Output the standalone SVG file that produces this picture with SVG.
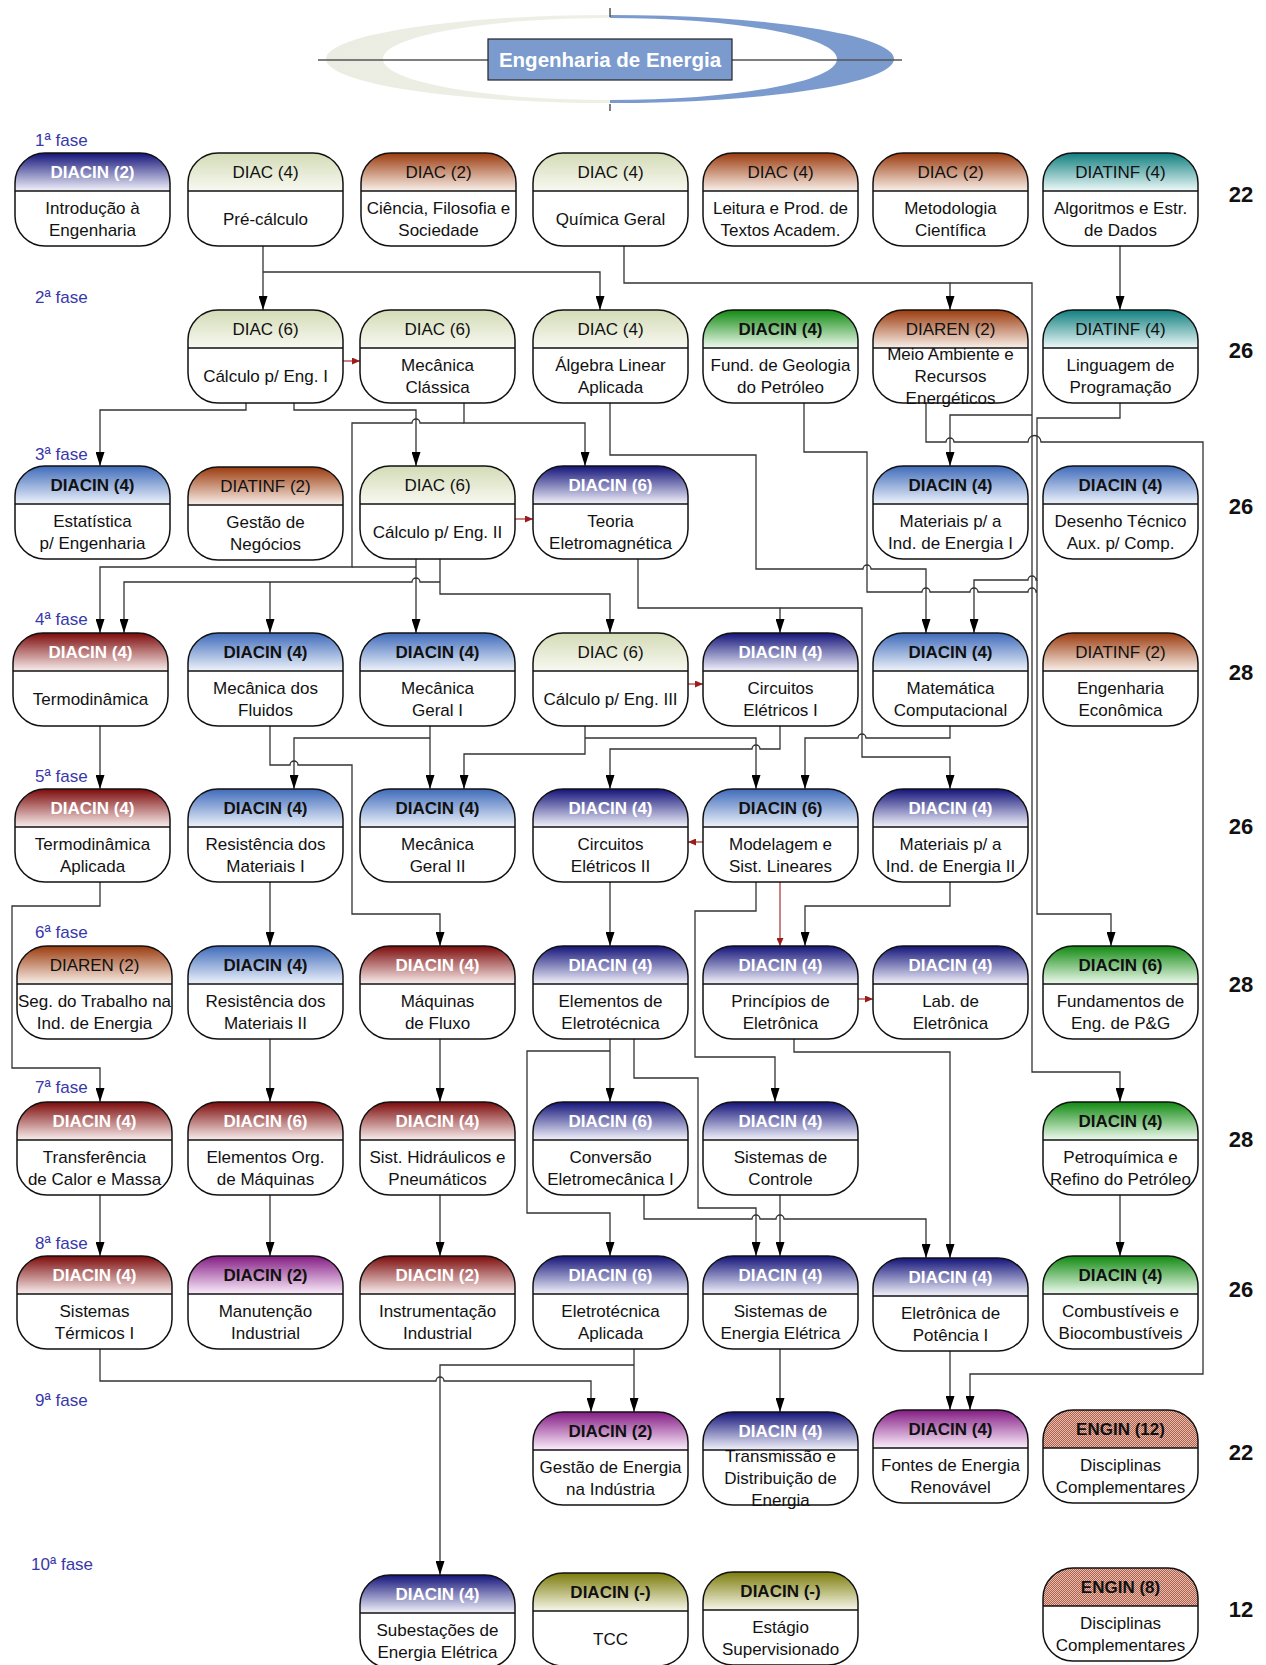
<svg xmlns="http://www.w3.org/2000/svg" width="1266" height="1665" viewBox="0 0 1266 1665">
<style>
text{font-family:"Liberation Sans",Arial,sans-serif}
.bd{fill:#fff}
.ol{fill:none;stroke:#111;stroke-width:1.5}
.dl{stroke:#111;stroke-width:1.5}
.t{font-size:17px;fill:#111;text-anchor:middle}
.h{font-size:17px;fill:#111;text-anchor:middle}
.hb{font-weight:bold}
.hw{font-weight:bold;fill:#fff}
.ph{font-size:17px;fill:#3838aa}
.tot{font-size:22px;font-weight:bold;text-anchor:middle;fill:#111}
.c{fill:none;stroke:#333;stroke-width:1.3;marker-end:url(#arr)}
.cn{fill:none;stroke:#333;stroke-width:1.3}
.cr{fill:none;stroke:#9b1c1c;stroke-width:1.1;marker-end:url(#arrR)}
</style>
<defs>
<linearGradient id="gTitle" gradientUnits="userSpaceOnUse" x1="326" y1="0" x2="894" y2="0"><stop offset="0" stop-color="#ecede2"/><stop offset="0.5" stop-color="#eeefe5"/><stop offset="0.5" stop-color="#7b9bcf"/><stop offset="1" stop-color="#7b9bcf"/></linearGradient>
<linearGradient id="gNavy" x1="0" y1="0" x2="0" y2="1"><stop offset="0" stop-color="#14147a"/><stop offset="1" stop-color="#f2f2fb"/></linearGradient>
<linearGradient id="gDiac" x1="0" y1="0" x2="0" y2="1"><stop offset="0" stop-color="#d3dbb6"/><stop offset="1" stop-color="#f8f9f1"/></linearGradient>
<linearGradient id="gBrown" x1="0" y1="0" x2="0" y2="1"><stop offset="0" stop-color="#9b3b0e"/><stop offset="1" stop-color="#f9f0ea"/></linearGradient>
<linearGradient id="gTeal" x1="0" y1="0" x2="0" y2="1"><stop offset="0" stop-color="#117f7f"/><stop offset="1" stop-color="#eef9f9"/></linearGradient>
<linearGradient id="gGreen" x1="0" y1="0" x2="0" y2="1"><stop offset="0" stop-color="#118a11"/><stop offset="1" stop-color="#effaef"/></linearGradient>
<linearGradient id="gSteel" x1="0" y1="0" x2="0" y2="1"><stop offset="0" stop-color="#3f6bba"/><stop offset="1" stop-color="#eef3fb"/></linearGradient>
<linearGradient id="gRed" x1="0" y1="0" x2="0" y2="1"><stop offset="0" stop-color="#7d0b0b"/><stop offset="1" stop-color="#f9eeee"/></linearGradient>
<linearGradient id="gPurple" x1="0" y1="0" x2="0" y2="1"><stop offset="0" stop-color="#841c84"/><stop offset="1" stop-color="#fbeefb"/></linearGradient>
<linearGradient id="gOlive" x1="0" y1="0" x2="0" y2="1"><stop offset="0" stop-color="#7c7c0c"/><stop offset="1" stop-color="#f7f7ea"/></linearGradient>
<pattern id="pEngin" width="2" height="2" patternUnits="userSpaceOnUse"><rect width="2" height="2" fill="#e6bcac"/><rect width="1" height="1" fill="#b0604e"/><rect x="1" y="1" width="1" height="1" fill="#b0604e"/></pattern>
<rect id="box" width="155" height="93" rx="30" ry="30"/>
<path id="hdr" d="M0,38 V30 A30,30 0 0 1 30,0 H125 A30,30 0 0 1 155,30 V38 Z"/>
<line id="dv" x1="0" y1="38" x2="155" y2="38"/>
<marker id="arr" viewBox="0 0 14 9" markerWidth="14" markerHeight="9" refX="14" refY="4.5" orient="auto" markerUnits="userSpaceOnUse"><path d="M0,0 L14,4.5 L0,9 Z" fill="#000"/></marker>
<marker id="arrR" viewBox="0 0 8 7" markerWidth="8" markerHeight="7" refX="8" refY="3.5" orient="auto" markerUnits="userSpaceOnUse"><path d="M0,0 L8,3.5 L0,7 Z" fill="#9b1c1c"/></marker>
</defs>
<rect width="1266" height="1665" fill="#fff"/>

<g id="title">
<path d="M326,59 A284,44 0 1 0 894,59 A284,44 0 1 0 326,59 Z M383,59 A227,41 0 1 0 837,59 A227,41 0 1 0 383,59 Z" fill="url(#gTitle)" fill-rule="evenodd"/>
<line x1="318" y1="60" x2="902" y2="60" stroke="#555" stroke-width="1.5"/>
<line x1="610" y1="8" x2="610" y2="17" stroke="#555" stroke-width="1.5"/>
<line x1="610" y1="104" x2="610" y2="111" stroke="#555" stroke-width="1.5"/>
<rect x="488" y="39" width="244" height="41" fill="#7b9bcf" stroke="#222" stroke-width="1.2"/>
<text x="610" y="67" font-size="20.5" font-weight="bold" fill="#fff" text-anchor="middle">Engenharia de Energia</text>
</g>

<g id="phases">
<text class="ph" x="35" y="146">1ª fase</text>
<text class="ph" x="35" y="303">2ª fase</text>
<text class="ph" x="35" y="460">3ª fase</text>
<text class="ph" x="35" y="625">4ª fase</text>
<text class="ph" x="35" y="782">5ª fase</text>
<text class="ph" x="35" y="938">6ª fase</text>
<text class="ph" x="35" y="1093">7ª fase</text>
<text class="ph" x="35" y="1249">8ª fase</text>
<text class="ph" x="35" y="1406">9ª fase</text>
<text class="ph" x="31" y="1570">10ª fase</text>
</g>

<g id="totals">
<text class="tot" x="1241" y="202">22</text>
<text class="tot" x="1241" y="358">26</text>
<text class="tot" x="1241" y="514">26</text>
<text class="tot" x="1241" y="680">28</text>
<text class="tot" x="1241" y="834">26</text>
<text class="tot" x="1241" y="992">28</text>
<text class="tot" x="1241" y="1147">28</text>
<text class="tot" x="1241" y="1297">26</text>
<text class="tot" x="1241" y="1460">22</text>
<text class="tot" x="1241" y="1617">12</text>
</g>

<g id="connectors">
<path class="c" d="M263,246 V310"/>
<path class="c" d="M263,272 H600 V310"/>
<path class="c" d="M624,246 V283 H950 V310"/>
<path class="c" d="M950,283 H1032 V1072 H1120 V1102"/>
<path class="c" d="M1032,415 H950 V466"/>
<path class="c" d="M1120,246 V310"/>
<path class="c" d="M246,402 V410 H100 V466"/>
<path class="c" d="M294,402 V410 H416 V466"/>
<path class="c" d="M464,402 V423 H585 V466"/>
<path class="c" d="M464,423 H420 A4,4 0 0 0 412,423 H352 V567 H100 V633"/>
<path class="cn" d="M352,567 H416"/>
<path class="c" d="M416,559 V633"/>
<path class="c" d="M440,559 V594 H610 V633"/>
<path class="c" d="M440,582 H420 A4,4 0 0 0 412,582 H124 V633"/>
<path class="c" d="M270,582 V633"/>
<path class="c" d="M610,402 V455 H756 V569 H863 A4,4 0 0 1 871,569 H926 V633"/>
<path class="c" d="M1037,580 V592 M804,402 V452 H867 V592 H922 A4,4 0 0 1 930,592 H970 A4,4 0 0 1 978,592 H1028 A4,4 0 0 1 1036,592 H1037 V914 H1111 V946"/>
<path class="c" d="M926,402 V442 H946 A4,4 0 0 1 954,442 H1028 A6.5,6.5 0 0 1 1041,442 H1203 V1374 H970 V1410"/>
<path class="c" d="M1120,402 V418 H1037 V580 H1036 A4,4 0 0 0 1028,580 H974 V633"/>
<path class="c" d="M638,559 V608 H780 V633"/>
<path class="c" d="M780,608 H862 V757 H950 V789"/>
<path class="c" d="M585,726 V754 H464 V789"/>
<path class="c" d="M585,738 H756 V789"/>
<path class="c" d="M780,726 V749 H760 A4,4 0 0 0 752,749 H610 V789"/>
<path class="c" d="M950,726 V738 H866 A4,4 0 0 0 858,738 H805 V789"/>
<path class="c" d="M100,726 V789"/>
<path class="c" d="M270,726 V765 H290 A4,4 0 0 1 298,765 H352 V914 H440 V946"/>
<path class="c" d="M430,726 V789"/>
<path class="c" d="M430,738 H294 V789"/>
<path class="c" d="M100,882 V906 H12 V1068 H100 V1102"/>
<path class="c" d="M270,882 V946"/>
<path class="c" d="M610,882 V946"/>
<path class="c" d="M756,882 V911 H695 V1057 H775 V1102"/>
<path class="c" d="M950,882 V906 H805 V946"/>
<path class="c" d="M270,1039 V1102"/>
<path class="c" d="M440,1039 V1102"/>
<path class="c" d="M610,1039 V1102"/>
<path class="c" d="M610,1051 H527 V1213 H610 V1256"/>
<path class="c" d="M634,1039 V1078 H698 V1208 H756 V1256"/>
<path class="c" d="M794,1039 V1052 H950 V1258"/>
<path class="c" d="M780,1195 V1256"/>
<path class="c" d="M644,1195 V1219 H752 A4,4 0 0 1 760,1219 H776 A4,4 0 0 1 784,1219 H926 V1258"/>
<path class="c" d="M1120,1195 V1256"/>
<path class="c" d="M100,1195 V1256"/>
<path class="c" d="M270,1195 V1256"/>
<path class="c" d="M440,1195 V1256"/>
<path class="c" d="M100,1349 V1381 H436 A4,4 0 0 1 444,1381 H591 V1412"/>
<path class="c" d="M634,1349 V1412"/>
<path class="c" d="M634,1365 H440 V1575"/>
<path class="c" d="M780,1349 V1412"/>
<path class="c" d="M950,1351 V1410"/>
<path class="cr" d="M343,361 H360"/>
<path class="cr" d="M515,519 H533"/>
<path class="cr" d="M688,684 H703"/>
<path class="cr" d="M703,842 H688"/>
<path class="cr" d="M780,882 V946"/>
<path class="cr" d="M858,999 H873"/>
</g>

<g id="n-intro-eng" transform="translate(15,153)"><use href="#box" class="bd"/><text class="t"><tspan x="77.5" y="60.5">Introdução à</tspan><tspan x="77.5" y="82.5">Engenharia</tspan></text><use href="#hdr" fill="url(#gNavy)"/><use href="#dv" class="dl"/><text class="h hw" x="77.5" y="25">DIACIN (2)</text><use href="#box" class="ol"/></g>
<g id="n-pre-calculo" transform="translate(188,153)"><use href="#box" class="bd"/><text class="t" x="77.5" y="71.5">Pré-cálculo</text><use href="#hdr" fill="url(#gDiac)"/><use href="#dv" class="dl"/><text class="h" x="77.5" y="25">DIAC (4)</text><use href="#box" class="ol"/></g>
<g id="n-ciencia" transform="translate(361,153)"><use href="#box" class="bd"/><text class="t"><tspan x="77.5" y="60.5">Ciência, Filosofia e</tspan><tspan x="77.5" y="82.5">Sociedade</tspan></text><use href="#hdr" fill="url(#gBrown)"/><use href="#dv" class="dl"/><text class="h" x="77.5" y="25">DIAC (2)</text><use href="#box" class="ol"/></g>
<g id="n-quimica" transform="translate(533,153)"><use href="#box" class="bd"/><text class="t" x="77.5" y="71.5">Química Geral</text><use href="#hdr" fill="url(#gDiac)"/><use href="#dv" class="dl"/><text class="h" x="77.5" y="25">DIAC (4)</text><use href="#box" class="ol"/></g>
<g id="n-leitura" transform="translate(703,153)"><use href="#box" class="bd"/><text class="t"><tspan x="77.5" y="60.5">Leitura e Prod. de</tspan><tspan x="77.5" y="82.5">Textos Academ.</tspan></text><use href="#hdr" fill="url(#gBrown)"/><use href="#dv" class="dl"/><text class="h" x="77.5" y="25">DIAC (4)</text><use href="#box" class="ol"/></g>
<g id="n-metodologia" transform="translate(873,153)"><use href="#box" class="bd"/><text class="t"><tspan x="77.5" y="60.5">Metodologia</tspan><tspan x="77.5" y="82.5">Científica</tspan></text><use href="#hdr" fill="url(#gBrown)"/><use href="#dv" class="dl"/><text class="h" x="77.5" y="25">DIAC (2)</text><use href="#box" class="ol"/></g>
<g id="n-algoritmos" transform="translate(1043,153)"><use href="#box" class="bd"/><text class="t"><tspan x="77.5" y="60.5">Algoritmos e Estr.</tspan><tspan x="77.5" y="82.5">de Dados</tspan></text><use href="#hdr" fill="url(#gTeal)"/><use href="#dv" class="dl"/><text class="h" x="77.5" y="25">DIATINF (4)</text><use href="#box" class="ol"/></g>

<g id="n-calculo1" transform="translate(188,310)"><use href="#box" class="bd"/><text class="t" x="77.5" y="71.5">Cálculo p/ Eng. I</text><use href="#hdr" fill="url(#gDiac)"/><use href="#dv" class="dl"/><text class="h" x="77.5" y="25">DIAC (6)</text><use href="#box" class="ol"/></g>
<g id="n-mec-classica" transform="translate(360,310)"><use href="#box" class="bd"/><text class="t"><tspan x="77.5" y="60.5">Mecânica</tspan><tspan x="77.5" y="82.5">Clássica</tspan></text><use href="#hdr" fill="url(#gDiac)"/><use href="#dv" class="dl"/><text class="h" x="77.5" y="25">DIAC (6)</text><use href="#box" class="ol"/></g>
<g id="n-algebra" transform="translate(533,310)"><use href="#box" class="bd"/><text class="t"><tspan x="77.5" y="60.5">Álgebra Linear</tspan><tspan x="77.5" y="82.5">Aplicada</tspan></text><use href="#hdr" fill="url(#gDiac)"/><use href="#dv" class="dl"/><text class="h" x="77.5" y="25">DIAC (4)</text><use href="#box" class="ol"/></g>
<g id="n-geologia" transform="translate(703,310)"><use href="#box" class="bd"/><text class="t"><tspan x="77.5" y="60.5">Fund. de Geologia</tspan><tspan x="77.5" y="82.5">do Petróleo</tspan></text><use href="#hdr" fill="url(#gGreen)"/><use href="#dv" class="dl"/><text class="h hb" x="77.5" y="25">DIACIN (4)</text><use href="#box" class="ol"/></g>
<g id="n-meio-ambiente" transform="translate(873,310)"><use href="#box" class="bd"/><text class="t"><tspan x="77.5" y="49.5">Meio Ambiente e</tspan><tspan x="77.5" y="71.5">Recursos</tspan><tspan x="77.5" y="93.5">Energéticos</tspan></text><use href="#hdr" fill="url(#gBrown)"/><use href="#dv" class="dl"/><text class="h" x="77.5" y="25">DIAREN (2)</text><use href="#box" class="ol"/></g>
<g id="n-linguagem" transform="translate(1043,310)"><use href="#box" class="bd"/><text class="t"><tspan x="77.5" y="60.5">Linguagem de</tspan><tspan x="77.5" y="82.5">Programação</tspan></text><use href="#hdr" fill="url(#gTeal)"/><use href="#dv" class="dl"/><text class="h" x="77.5" y="25">DIATINF (4)</text><use href="#box" class="ol"/></g>

<g id="n-estatistica" transform="translate(15,466)"><use href="#box" class="bd"/><text class="t"><tspan x="77.5" y="60.5">Estatística</tspan><tspan x="77.5" y="82.5">p/ Engenharia</tspan></text><use href="#hdr" fill="url(#gSteel)"/><use href="#dv" class="dl"/><text class="h hb" x="77.5" y="25">DIACIN (4)</text><use href="#box" class="ol"/></g>
<g id="n-gestao-negocios" transform="translate(188,467)"><use href="#box" class="bd"/><text class="t"><tspan x="77.5" y="60.5">Gestão de</tspan><tspan x="77.5" y="82.5">Negócios</tspan></text><use href="#hdr" fill="url(#gBrown)"/><use href="#dv" class="dl"/><text class="h" x="77.5" y="25">DIATINF (2)</text><use href="#box" class="ol"/></g>
<g id="n-calculo2" transform="translate(360,466)"><use href="#box" class="bd"/><text class="t" x="77.5" y="71.5">Cálculo p/ Eng. II</text><use href="#hdr" fill="url(#gDiac)"/><use href="#dv" class="dl"/><text class="h" x="77.5" y="25">DIAC (6)</text><use href="#box" class="ol"/></g>
<g id="n-teoria-em" transform="translate(533,466)"><use href="#box" class="bd"/><text class="t"><tspan x="77.5" y="60.5">Teoria</tspan><tspan x="77.5" y="82.5">Eletromagnética</tspan></text><use href="#hdr" fill="url(#gNavy)"/><use href="#dv" class="dl"/><text class="h hw" x="77.5" y="25">DIACIN (6)</text><use href="#box" class="ol"/></g>
<g id="n-materiais1" transform="translate(873,466)"><use href="#box" class="bd"/><text class="t"><tspan x="77.5" y="60.5">Materiais p/ a</tspan><tspan x="77.5" y="82.5">Ind. de Energia I</tspan></text><use href="#hdr" fill="url(#gSteel)"/><use href="#dv" class="dl"/><text class="h hb" x="77.5" y="25">DIACIN (4)</text><use href="#box" class="ol"/></g>
<g id="n-desenho" transform="translate(1043,466)"><use href="#box" class="bd"/><text class="t"><tspan x="77.5" y="60.5">Desenho Técnico</tspan><tspan x="77.5" y="82.5">Aux. p/ Comp.</tspan></text><use href="#hdr" fill="url(#gSteel)"/><use href="#dv" class="dl"/><text class="h hb" x="77.5" y="25">DIACIN (4)</text><use href="#box" class="ol"/></g>

<g id="n-termodinamica" transform="translate(13,633)"><use href="#box" class="bd"/><text class="t" x="77.5" y="71.5">Termodinâmica</text><use href="#hdr" fill="url(#gRed)"/><use href="#dv" class="dl"/><text class="h hw" x="77.5" y="25">DIACIN (4)</text><use href="#box" class="ol"/></g>
<g id="n-mec-fluidos" transform="translate(188,633)"><use href="#box" class="bd"/><text class="t"><tspan x="77.5" y="60.5">Mecânica dos</tspan><tspan x="77.5" y="82.5">Fluidos</tspan></text><use href="#hdr" fill="url(#gSteel)"/><use href="#dv" class="dl"/><text class="h hb" x="77.5" y="25">DIACIN (4)</text><use href="#box" class="ol"/></g>
<g id="n-mec-geral1" transform="translate(360,633)"><use href="#box" class="bd"/><text class="t"><tspan x="77.5" y="60.5">Mecânica</tspan><tspan x="77.5" y="82.5">Geral I</tspan></text><use href="#hdr" fill="url(#gSteel)"/><use href="#dv" class="dl"/><text class="h hb" x="77.5" y="25">DIACIN (4)</text><use href="#box" class="ol"/></g>
<g id="n-calculo3" transform="translate(533,633)"><use href="#box" class="bd"/><text class="t" x="77.5" y="71.5">Cálculo p/ Eng. III</text><use href="#hdr" fill="url(#gDiac)"/><use href="#dv" class="dl"/><text class="h" x="77.5" y="25">DIAC (6)</text><use href="#box" class="ol"/></g>
<g id="n-circuitos1" transform="translate(703,633)"><use href="#box" class="bd"/><text class="t"><tspan x="77.5" y="60.5">Circuitos</tspan><tspan x="77.5" y="82.5">Elétricos I</tspan></text><use href="#hdr" fill="url(#gNavy)"/><use href="#dv" class="dl"/><text class="h hw" x="77.5" y="25">DIACIN (4)</text><use href="#box" class="ol"/></g>
<g id="n-mat-comp" transform="translate(873,633)"><use href="#box" class="bd"/><text class="t"><tspan x="77.5" y="60.5">Matemática</tspan><tspan x="77.5" y="82.5">Computacional</tspan></text><use href="#hdr" fill="url(#gSteel)"/><use href="#dv" class="dl"/><text class="h hb" x="77.5" y="25">DIACIN (4)</text><use href="#box" class="ol"/></g>
<g id="n-eng-economica" transform="translate(1043,633)"><use href="#box" class="bd"/><text class="t"><tspan x="77.5" y="60.5">Engenharia</tspan><tspan x="77.5" y="82.5">Econômica</tspan></text><use href="#hdr" fill="url(#gBrown)"/><use href="#dv" class="dl"/><text class="h" x="77.5" y="25">DIATINF (2)</text><use href="#box" class="ol"/></g>

<g id="n-termo-aplicada" transform="translate(15,789)"><use href="#box" class="bd"/><text class="t"><tspan x="77.5" y="60.5">Termodinâmica</tspan><tspan x="77.5" y="82.5">Aplicada</tspan></text><use href="#hdr" fill="url(#gRed)"/><use href="#dv" class="dl"/><text class="h hw" x="77.5" y="25">DIACIN (4)</text><use href="#box" class="ol"/></g>
<g id="n-resmat1" transform="translate(188,789)"><use href="#box" class="bd"/><text class="t"><tspan x="77.5" y="60.5">Resistência dos</tspan><tspan x="77.5" y="82.5">Materiais I</tspan></text><use href="#hdr" fill="url(#gSteel)"/><use href="#dv" class="dl"/><text class="h hb" x="77.5" y="25">DIACIN (4)</text><use href="#box" class="ol"/></g>
<g id="n-mec-geral2" transform="translate(360,789)"><use href="#box" class="bd"/><text class="t"><tspan x="77.5" y="60.5">Mecânica</tspan><tspan x="77.5" y="82.5">Geral II</tspan></text><use href="#hdr" fill="url(#gSteel)"/><use href="#dv" class="dl"/><text class="h hb" x="77.5" y="25">DIACIN (4)</text><use href="#box" class="ol"/></g>
<g id="n-circuitos2" transform="translate(533,789)"><use href="#box" class="bd"/><text class="t"><tspan x="77.5" y="60.5">Circuitos</tspan><tspan x="77.5" y="82.5">Elétricos II</tspan></text><use href="#hdr" fill="url(#gNavy)"/><use href="#dv" class="dl"/><text class="h hw" x="77.5" y="25">DIACIN (4)</text><use href="#box" class="ol"/></g>
<g id="n-modelagem" transform="translate(703,789)"><use href="#box" class="bd"/><text class="t"><tspan x="77.5" y="60.5">Modelagem e</tspan><tspan x="77.5" y="82.5">Sist. Lineares</tspan></text><use href="#hdr" fill="url(#gSteel)"/><use href="#dv" class="dl"/><text class="h hb" x="77.5" y="25">DIACIN (6)</text><use href="#box" class="ol"/></g>
<g id="n-materiais2" transform="translate(873,789)"><use href="#box" class="bd"/><text class="t"><tspan x="77.5" y="60.5">Materiais p/ a</tspan><tspan x="77.5" y="82.5">Ind. de Energia II</tspan></text><use href="#hdr" fill="url(#gNavy)"/><use href="#dv" class="dl"/><text class="h hw" x="77.5" y="25">DIACIN (4)</text><use href="#box" class="ol"/></g>

<g id="n-seg-trabalho" transform="translate(17,946)"><use href="#box" class="bd"/><text class="t"><tspan x="77.5" y="60.5">Seg. do Trabalho na</tspan><tspan x="77.5" y="82.5">Ind. de Energia</tspan></text><use href="#hdr" fill="url(#gBrown)"/><use href="#dv" class="dl"/><text class="h" x="77.5" y="25">DIAREN (2)</text><use href="#box" class="ol"/></g>
<g id="n-resmat2" transform="translate(188,946)"><use href="#box" class="bd"/><text class="t"><tspan x="77.5" y="60.5">Resistência dos</tspan><tspan x="77.5" y="82.5">Materiais II</tspan></text><use href="#hdr" fill="url(#gSteel)"/><use href="#dv" class="dl"/><text class="h hb" x="77.5" y="25">DIACIN (4)</text><use href="#box" class="ol"/></g>
<g id="n-maquinas-fluxo" transform="translate(360,946)"><use href="#box" class="bd"/><text class="t"><tspan x="77.5" y="60.5">Máquinas</tspan><tspan x="77.5" y="82.5">de Fluxo</tspan></text><use href="#hdr" fill="url(#gRed)"/><use href="#dv" class="dl"/><text class="h hw" x="77.5" y="25">DIACIN (4)</text><use href="#box" class="ol"/></g>
<g id="n-elem-eletrotecnica" transform="translate(533,946)"><use href="#box" class="bd"/><text class="t"><tspan x="77.5" y="60.5">Elementos de</tspan><tspan x="77.5" y="82.5">Eletrotécnica</tspan></text><use href="#hdr" fill="url(#gNavy)"/><use href="#dv" class="dl"/><text class="h hw" x="77.5" y="25">DIACIN (4)</text><use href="#box" class="ol"/></g>
<g id="n-principios" transform="translate(703,946)"><use href="#box" class="bd"/><text class="t"><tspan x="77.5" y="60.5">Princípios de</tspan><tspan x="77.5" y="82.5">Eletrônica</tspan></text><use href="#hdr" fill="url(#gNavy)"/><use href="#dv" class="dl"/><text class="h hw" x="77.5" y="25">DIACIN (4)</text><use href="#box" class="ol"/></g>
<g id="n-lab-eletronica" transform="translate(873,946)"><use href="#box" class="bd"/><text class="t"><tspan x="77.5" y="60.5">Lab. de</tspan><tspan x="77.5" y="82.5">Eletrônica</tspan></text><use href="#hdr" fill="url(#gNavy)"/><use href="#dv" class="dl"/><text class="h hw" x="77.5" y="25">DIACIN (4)</text><use href="#box" class="ol"/></g>
<g id="n-fund-pg" transform="translate(1043,946)"><use href="#box" class="bd"/><text class="t"><tspan x="77.5" y="60.5">Fundamentos de</tspan><tspan x="77.5" y="82.5">Eng. de P&amp;G</tspan></text><use href="#hdr" fill="url(#gGreen)"/><use href="#dv" class="dl"/><text class="h hb" x="77.5" y="25">DIACIN (6)</text><use href="#box" class="ol"/></g>

<g id="n-transferencia" transform="translate(17,1102)"><use href="#box" class="bd"/><text class="t"><tspan x="77.5" y="60.5">Transferência</tspan><tspan x="77.5" y="82.5">de Calor e Massa</tspan></text><use href="#hdr" fill="url(#gRed)"/><use href="#dv" class="dl"/><text class="h hw" x="77.5" y="25">DIACIN (4)</text><use href="#box" class="ol"/></g>
<g id="n-elem-org" transform="translate(188,1102)"><use href="#box" class="bd"/><text class="t"><tspan x="77.5" y="60.5">Elementos Org.</tspan><tspan x="77.5" y="82.5">de Máquinas</tspan></text><use href="#hdr" fill="url(#gRed)"/><use href="#dv" class="dl"/><text class="h hw" x="77.5" y="25">DIACIN (6)</text><use href="#box" class="ol"/></g>
<g id="n-sist-hidraulicos" transform="translate(360,1102)"><use href="#box" class="bd"/><text class="t"><tspan x="77.5" y="60.5">Sist. Hidráulicos e</tspan><tspan x="77.5" y="82.5">Pneumáticos</tspan></text><use href="#hdr" fill="url(#gRed)"/><use href="#dv" class="dl"/><text class="h hw" x="77.5" y="25">DIACIN (4)</text><use href="#box" class="ol"/></g>
<g id="n-conversao" transform="translate(533,1102)"><use href="#box" class="bd"/><text class="t"><tspan x="77.5" y="60.5">Conversão</tspan><tspan x="77.5" y="82.5">Eletromecânica I</tspan></text><use href="#hdr" fill="url(#gNavy)"/><use href="#dv" class="dl"/><text class="h hw" x="77.5" y="25">DIACIN (6)</text><use href="#box" class="ol"/></g>
<g id="n-controle" transform="translate(703,1102)"><use href="#box" class="bd"/><text class="t"><tspan x="77.5" y="60.5">Sistemas de</tspan><tspan x="77.5" y="82.5">Controle</tspan></text><use href="#hdr" fill="url(#gNavy)"/><use href="#dv" class="dl"/><text class="h hw" x="77.5" y="25">DIACIN (4)</text><use href="#box" class="ol"/></g>
<g id="n-petroquimica" transform="translate(1043,1102)"><use href="#box" class="bd"/><text class="t"><tspan x="77.5" y="60.5">Petroquímica e</tspan><tspan x="77.5" y="82.5">Refino do Petróleo</tspan></text><use href="#hdr" fill="url(#gGreen)"/><use href="#dv" class="dl"/><text class="h hb" x="77.5" y="25">DIACIN (4)</text><use href="#box" class="ol"/></g>

<g id="n-sist-termicos" transform="translate(17,1256)"><use href="#box" class="bd"/><text class="t"><tspan x="77.5" y="60.5">Sistemas</tspan><tspan x="77.5" y="82.5">Térmicos I</tspan></text><use href="#hdr" fill="url(#gRed)"/><use href="#dv" class="dl"/><text class="h hw" x="77.5" y="25">DIACIN (4)</text><use href="#box" class="ol"/></g>
<g id="n-manutencao" transform="translate(188,1256)"><use href="#box" class="bd"/><text class="t"><tspan x="77.5" y="60.5">Manutenção</tspan><tspan x="77.5" y="82.5">Industrial</tspan></text><use href="#hdr" fill="url(#gPurple)"/><use href="#dv" class="dl"/><text class="h hb" x="77.5" y="25">DIACIN (2)</text><use href="#box" class="ol"/></g>
<g id="n-instrumentacao" transform="translate(360,1256)"><use href="#box" class="bd"/><text class="t"><tspan x="77.5" y="60.5">Instrumentação</tspan><tspan x="77.5" y="82.5">Industrial</tspan></text><use href="#hdr" fill="url(#gRed)"/><use href="#dv" class="dl"/><text class="h hw" x="77.5" y="25">DIACIN (2)</text><use href="#box" class="ol"/></g>
<g id="n-eletrotecnica-apl" transform="translate(533,1256)"><use href="#box" class="bd"/><text class="t"><tspan x="77.5" y="60.5">Eletrotécnica</tspan><tspan x="77.5" y="82.5">Aplicada</tspan></text><use href="#hdr" fill="url(#gNavy)"/><use href="#dv" class="dl"/><text class="h hw" x="77.5" y="25">DIACIN (6)</text><use href="#box" class="ol"/></g>
<g id="n-sist-energia" transform="translate(703,1256)"><use href="#box" class="bd"/><text class="t"><tspan x="77.5" y="60.5">Sistemas de</tspan><tspan x="77.5" y="82.5">Energia Elétrica</tspan></text><use href="#hdr" fill="url(#gNavy)"/><use href="#dv" class="dl"/><text class="h hw" x="77.5" y="25">DIACIN (4)</text><use href="#box" class="ol"/></g>
<g id="n-eletr-potencia" transform="translate(873,1258)"><use href="#box" class="bd"/><text class="t"><tspan x="77.5" y="60.5">Eletrônica de</tspan><tspan x="77.5" y="82.5">Potência I</tspan></text><use href="#hdr" fill="url(#gNavy)"/><use href="#dv" class="dl"/><text class="h hw" x="77.5" y="25">DIACIN (4)</text><use href="#box" class="ol"/></g>
<g id="n-combustiveis" transform="translate(1043,1256)"><use href="#box" class="bd"/><text class="t"><tspan x="77.5" y="60.5">Combustíveis e</tspan><tspan x="77.5" y="82.5">Biocombustíveis</tspan></text><use href="#hdr" fill="url(#gGreen)"/><use href="#dv" class="dl"/><text class="h hb" x="77.5" y="25">DIACIN (4)</text><use href="#box" class="ol"/></g>

<g id="n-gestao-energia" transform="translate(533,1412)"><use href="#box" class="bd"/><text class="t"><tspan x="77.5" y="60.5">Gestão de Energia</tspan><tspan x="77.5" y="82.5">na Indústria</tspan></text><use href="#hdr" fill="url(#gPurple)"/><use href="#dv" class="dl"/><text class="h hb" x="77.5" y="25">DIACIN (2)</text><use href="#box" class="ol"/></g>
<g id="n-transmissao" transform="translate(703,1412)"><use href="#box" class="bd"/><text class="t"><tspan x="77.5" y="49.5">Transmissão e</tspan><tspan x="77.5" y="71.5">Distribuição de</tspan><tspan x="77.5" y="93.5">Energia</tspan></text><use href="#hdr" fill="url(#gNavy)"/><use href="#dv" class="dl"/><text class="h hw" x="77.5" y="25">DIACIN (4)</text><use href="#box" class="ol"/></g>
<g id="n-fontes" transform="translate(873,1410)"><use href="#box" class="bd"/><text class="t"><tspan x="77.5" y="60.5">Fontes de Energia</tspan><tspan x="77.5" y="82.5">Renovável</tspan></text><use href="#hdr" fill="url(#gPurple)"/><use href="#dv" class="dl"/><text class="h hb" x="77.5" y="25">DIACIN (4)</text><use href="#box" class="ol"/></g>
<g id="n-compl12" transform="translate(1043,1410)"><use href="#box" class="bd"/><text class="t"><tspan x="77.5" y="60.5">Disciplinas</tspan><tspan x="77.5" y="82.5">Complementares</tspan></text><use href="#hdr" fill="url(#pEngin)"/><use href="#dv" class="dl"/><text class="h hb" x="77.5" y="25">ENGIN (12)</text><use href="#box" class="ol"/></g>

<g id="n-subestacoes" transform="translate(360,1575)"><use href="#box" class="bd"/><text class="t"><tspan x="77.5" y="60.5">Subestações de</tspan><tspan x="77.5" y="82.5">Energia Elétrica</tspan></text><use href="#hdr" fill="url(#gNavy)"/><use href="#dv" class="dl"/><text class="h hw" x="77.5" y="25">DIACIN (4)</text><use href="#box" class="ol"/></g>
<g id="n-tcc" transform="translate(533,1573)"><use href="#box" class="bd"/><text class="t" x="77.5" y="71.5">TCC</text><use href="#hdr" fill="url(#gOlive)"/><use href="#dv" class="dl"/><text class="h hb" x="77.5" y="25">DIACIN (-)</text><use href="#box" class="ol"/></g>
<g id="n-estagio" transform="translate(703,1572)"><use href="#box" class="bd"/><text class="t"><tspan x="77.5" y="60.5">Estágio</tspan><tspan x="77.5" y="82.5">Supervisionado</tspan></text><use href="#hdr" fill="url(#gOlive)"/><use href="#dv" class="dl"/><text class="h hb" x="77.5" y="25">DIACIN (-)</text><use href="#box" class="ol"/></g>
<g id="n-compl8" transform="translate(1043,1568)"><use href="#box" class="bd"/><text class="t"><tspan x="77.5" y="60.5">Disciplinas</tspan><tspan x="77.5" y="82.5">Complementares</tspan></text><use href="#hdr" fill="url(#pEngin)"/><use href="#dv" class="dl"/><text class="h hb" x="77.5" y="25">ENGIN (8)</text><use href="#box" class="ol"/></g>
</svg>
